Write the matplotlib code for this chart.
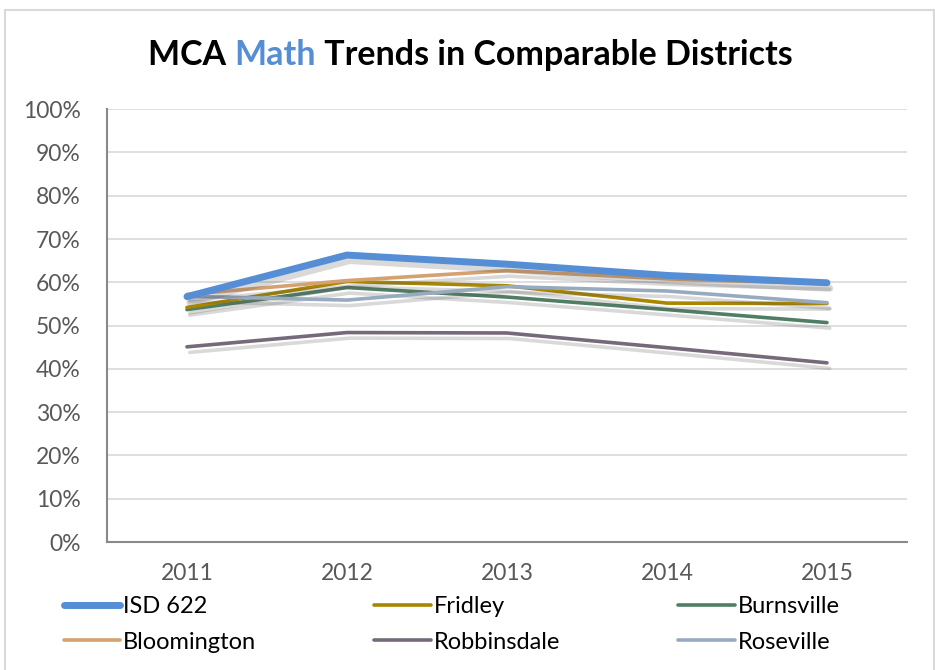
import matplotlib
matplotlib.use("Agg")
import matplotlib.pyplot as plt
import matplotlib.patheffects as pe
import numpy as np

# MCA math proficiency (%)
years = ["2011", "2012", "2013", "2014", "2015"]
isd_622 = [56.7, 66.3, 64.2, 61.6, 59.9]
fridley = [54.2, 60.2, 59.2, 55.2, 55.1]
burnsville = [53.7, 58.8, 56.6, 53.7, 50.7]
bloomington = [57.2, 60.4, 62.7, 60.8, 59.7]
robbinsdale = [45.1, 48.4, 48.3, 44.9, 41.4]
roseville = [56.8, 55.9, 59.0, 58.0, 55.3]

series = [
    ("ISD 622", isd_622, "#558ED5", 5.0),
    ("Fridley", fridley, "#A98600", 2.6),
    ("Burnsville", burnsville, "#4F7E64", 2.6),
    ("Bloomington", bloomington, "#D5A171", 2.6),
    ("Robbinsdale", robbinsdale, "#766979", 2.6),
    ("Roseville", roseville, "#98AABF", 2.6),
]

plt.rcParams['font.family'] = ['Lato', 'DejaVu Sans']

fig = plt.figure(figsize=(9.35, 6.7), dpi=100)
ax = fig.add_axes([0.1144, 0.191, 0.8556, 0.646])

x = np.arange(len(years))
shadow = [pe.SimpleLineShadow(offset=(2, -4), shadow_color='#555555', alpha=0.22),
          pe.Normal()]
# draw back to front so ISD 622 stays on top
order = [4, 2, 1, 5, 0, 3]
lines = {}
for i in order:
    name, vals, col, lw = series[i]
    ln, = ax.plot(x, np.array(vals) / 100, color=col, lw=lw, label=name,
                  solid_capstyle='round', solid_joinstyle='miter',
                  path_effects=shadow, zorder=3 + (2 if i == 0 else 0))
    lines[name] = ln

ax.set_xlim(-0.5, len(years) - 0.5)
ax.set_ylim(0, 1)
ax.set_yticks(np.arange(0, 1.01, 0.1))
ax.set_yticklabels([f"{int(round(v * 100))}%" for v in np.arange(0, 1.01, 0.1)])
ax.set_xticks(x)
ax.set_xticklabels(years)
ax.tick_params(axis='y', length=0, pad=19, labelsize=16.5, labelcolor='#595959')
ax.tick_params(axis='x', length=0, pad=15, labelsize=16.5, labelcolor='#595959')
ax.grid(axis='y', color='#D9D9D9', lw=1.2)
ax.set_axisbelow(True)
for s in ['top', 'right']:
    ax.spines[s].set_visible(False)
for s in ['left', 'bottom']:
    ax.spines[s].set_color('#898989')
    ax.spines[s].set_linewidth(1.5)

# legend, 3 columns x 2 rows at the bottom, filled row by row
names = [s[0] for s in series]
leg_order = [0, 3, 1, 4, 2, 5]
handles = [lines[names[i]] for i in leg_order]
leg = fig.legend(handles, [names[i] for i in leg_order], ncol=3, loc='upper left',
                 bbox_to_anchor=(0.058, 0.124), frameon=False, fontsize=17,
                 handlelength=2.4, handletextpad=0.12, columnspacing=5.0,
                 labelspacing=0.6, borderaxespad=0)
for h in leg.legend_handles:
    h.set_path_effects([])

# title with "Math" in blue
renderer = fig.canvas.get_renderer()
parts = [("MCA ", "black"), ("Math", "#558ED5"), (" Trends in Comparable Districts", "black")]
texts = []
for t, c in parts:
    texts.append(fig.text(0, 0.918, t, color=c, fontsize=24.5, fontweight='bold',
                          va='center', ha='left'))
widths = [tx.get_window_extent(renderer).width for tx in texts]
start = (470 - sum(widths) / 2) / fig.bbox.width
for tx, w in zip(texts, widths):
    tx.set_x(start)
    start += w / fig.bbox.width

# outer chart border
fig.patches.append(plt.Rectangle((4.5 / 935, -0.01), 929 / 935, 1 - 10 / 670 + 0.01,
                                 transform=fig.transFigure, fill=False,
                                 edgecolor='#D9D9D9', lw=1.5))

fig.savefig("out.png", dpi=100)
